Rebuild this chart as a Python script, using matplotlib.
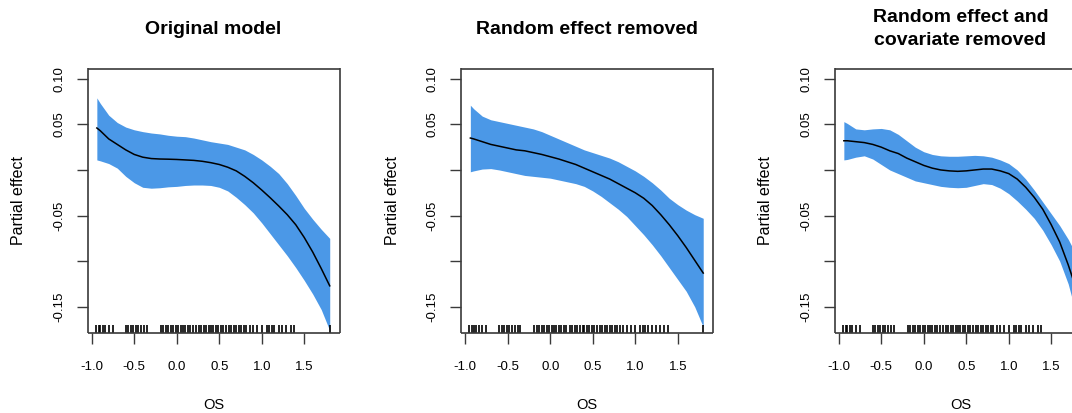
import matplotlib
matplotlib.use("Agg")
import matplotlib.pyplot as plt
import matplotlib.transforms as mtransforms

plt.rcParams['font.family'] = ['Liberation Sans', 'DejaVu Sans']

# OS grid the smooths were evaluated on
os_grid = [-0.94, -0.9, -0.8, -0.7, -0.6, -0.5, -0.4, -0.3, -0.2, -0.1,
           0.0, 0.1, 0.2, 0.3, 0.4, 0.5, 0.6, 0.7, 0.8, 0.9,
           1.0, 1.1, 1.2, 1.3, 1.4, 1.5, 1.6, 1.7, 1.8]

# original model
fit_orig = [0.046, 0.043, 0.034, 0.028, 0.022, 0.017, 0.014, 0.0125, 0.012, 0.0118,
            0.0115, 0.011, 0.0105, 0.0095, 0.008, 0.006, 0.003, -0.001, -0.007, -0.014,
            -0.022, -0.0305, -0.0395, -0.049, -0.060, -0.074, -0.090, -0.108, -0.127]
upr_orig = [0.079, 0.073, 0.060, 0.052, 0.047, 0.044, 0.042, 0.0405, 0.0395, 0.038,
            0.037, 0.0365, 0.035, 0.033, 0.031, 0.0295, 0.028, 0.025, 0.022, 0.017,
            0.011, 0.004, -0.004, -0.015, -0.028, -0.042, -0.054, -0.065, -0.075]
lwr_orig = [0.011, 0.010, 0.007, 0.002, -0.007, -0.014, -0.019, -0.020, -0.0195, -0.0185,
            -0.018, -0.017, -0.0165, -0.0165, -0.017, -0.019, -0.023, -0.030, -0.038, -0.047,
            -0.058, -0.070, -0.082, -0.094, -0.107, -0.121, -0.136, -0.153, -0.176]

# random effect removed
fit_nore = [0.035, 0.034, 0.031, 0.028, 0.026, 0.024, 0.022, 0.021, 0.019, 0.017,
            0.0145, 0.012, 0.009, 0.006, 0.002, -0.002, -0.006, -0.010, -0.015, -0.020,
            -0.025, -0.031, -0.039, -0.049, -0.060, -0.072, -0.085, -0.099, -0.113]
upr_nore = [0.071, 0.067, 0.059, 0.055, 0.053, 0.051, 0.049, 0.047, 0.045, 0.042,
            0.038, 0.034, 0.030, 0.026, 0.022, 0.019, 0.016, 0.013, 0.009, 0.004,
            -0.001, -0.007, -0.014, -0.022, -0.031, -0.038, -0.044, -0.049, -0.053]
lwr_nore = [-0.002, -0.001, 0.001, 0.0015, 0.000, -0.002, -0.004, -0.006, -0.007, -0.008,
            -0.009, -0.011, -0.013, -0.015, -0.018, -0.023, -0.029, -0.036, -0.043, -0.051,
            -0.061, -0.071, -0.082, -0.094, -0.107, -0.120, -0.133, -0.150, -0.172]

# random effect and covariate removed
fit_nocov = [0.032, 0.032, 0.031, 0.030, 0.028, 0.025, 0.021, 0.018, 0.013, 0.009,
             0.005, 0.002, 0.000, -0.001, -0.0015, -0.001, 0.000, 0.001, 0.001, -0.001,
             -0.004, -0.010, -0.019, -0.030, -0.043, -0.060, -0.079, -0.104, -0.132]
upr_nocov = [0.053, 0.051, 0.045, 0.044, 0.045, 0.0455, 0.044, 0.039, 0.032, 0.025,
             0.020, 0.017, 0.0155, 0.015, 0.015, 0.0155, 0.016, 0.0155, 0.014, 0.011,
             0.007, 0.000, -0.010, -0.022, -0.035, -0.048, -0.061, -0.076, -0.094]
lwr_nocov = [0.011, 0.0115, 0.014, 0.0155, 0.012, 0.006, 0.000, -0.004, -0.008, -0.012,
             -0.014, -0.016, -0.018, -0.019, -0.0195, -0.019, -0.017, -0.015, -0.016, -0.020,
             -0.026, -0.034, -0.043, -0.053, -0.066, -0.082, -0.100, -0.125, -0.160]

# observed OS values (rug)
os_obs = [-0.95, -0.92, -0.90, -0.87, -0.84, -0.80, -0.75, -0.60, -0.57, -0.54,
          -0.51, -0.48, -0.45, -0.42, -0.38, -0.35, -0.19, -0.16, -0.13, -0.10,
          -0.07, -0.04, -0.01, 0.02, 0.05, 0.07, 0.10, 0.13, 0.16, 0.19,
          0.23, 0.26, 0.29, 0.32, 0.35, 0.38, 0.40, 0.43, 0.46, 0.49,
          0.52, 0.55, 0.58, 0.61, 0.64, 0.67, 0.70, 0.73, 0.76, 0.79,
          0.82, 0.86, 0.90, 0.95, 1.00, 1.06, 1.09, 1.12, 1.15, 1.20,
          1.24, 1.29, 1.34, 1.38, 1.80]

titles = ["Original model", "Random effect removed", "Random effect and\ncovariate removed"]
panels = [(fit_orig, upr_orig, lwr_orig),
          (fit_nore, upr_nore, lwr_nore),
          (fit_nocov, upr_nocov, lwr_nocov)]

xticks = [-1.0, -0.5, 0.0, 0.5, 1.0, 1.5]
yticks = [-0.15, -0.10, -0.05, 0.0, 0.05, 0.10]
ylabels = ["-0.15", "", "-0.05", "", "0.05", "0.10"]

W, H = 1072, 413
fig = plt.figure(figsize=(W / 100, H / 100), dpi=100)

box_col = "#3a3a3a"
band_col = "#4b98e7"

for i, (title, (fit, upr, lwr)) in enumerate(zip(titles, panels)):
    left = 87.5 + i * 373.5
    ax = fig.add_axes([left / W, (H - 333) / H, 252 / W, 264.5 / H])
    ax.fill_between(os_grid, lwr, upr, color=band_col, lw=0)
    ax.plot(os_grid, fit, color="black", lw=1.1, solid_joinstyle="round")

    # rug of observed values along the bottom
    trans = mtransforms.blended_transform_factory(ax.transData, ax.transAxes)
    ax.vlines(os_obs, 0, 0.03, transform=trans, color="black", lw=1.2)

    ax.set_xlim(-1.05, 1.915)
    ax.set_ylim(-0.1787, 0.1112)
    ax.set_xticks(xticks)
    ax.set_xticklabels([f"{v:.1f}" for v in xticks])
    ax.set_yticks(yticks)
    ax.set_yticklabels(ylabels, rotation=90, va="center")
    ax.tick_params(direction="out", length=8, width=1.0, color=box_col,
                   labelsize=9.5, labelcolor="black")
    ax.tick_params(axis="x", pad=12)
    ax.tick_params(axis="y", pad=8)
    for s in ax.spines.values():
        s.set_color(box_col)
        s.set_linewidth(1.2)
        s.set_capstyle("butt")

    ax.set_xlabel("OS", fontsize=10.5, va="center")
    ax.xaxis.set_label_coords(0.5, -0.272)
    ax.set_ylabel("Partial effect", fontsize=11.5, va="center")
    ax.yaxis.set_label_coords(-(87.5 - 19) / 252, 0.5)

    ax.text(0.5, 1.149, title, transform=ax.transAxes, ha="center", va="center",
            fontsize=14, fontweight="bold", linespacing=1.4)

fig.savefig("out.png", dpi=100)
